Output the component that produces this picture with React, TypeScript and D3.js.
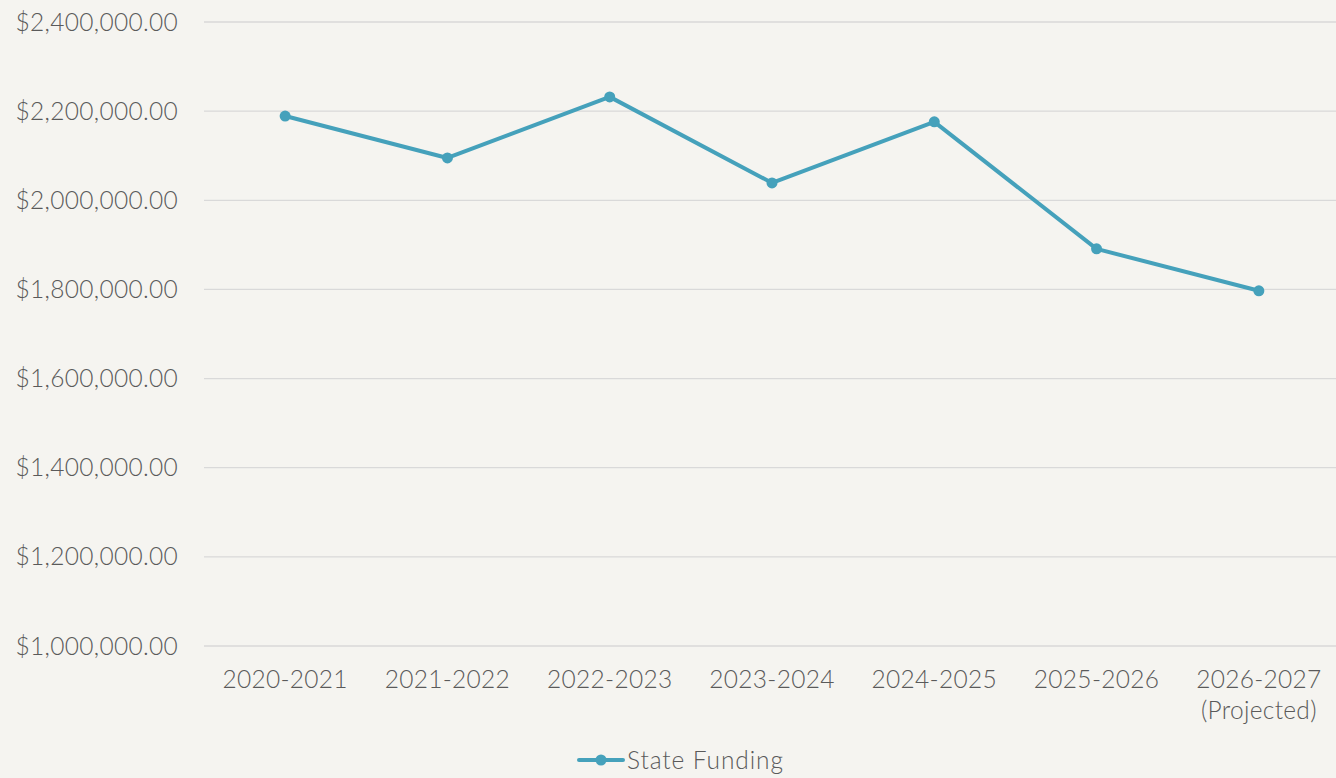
import React from "react";
import * as d3 from "d3";

const categories: string[][] = [
  ["2020-2021"],
  ["2021-2022"],
  ["2022-2023"],
  ["2023-2024"],
  ["2024-2025"],
  ["2025-2026"],
  ["2026-2027", "(Projected)"],
];
const stateFunding: number[] = [2189000, 2095000, 2232000, 2039000, 2176000, 1891000, 1797000];
const yTicks: number[] = [1000000, 1200000, 1400000, 1600000, 1800000, 2000000, 2200000, 2400000];
const seriesName = "State Funding";

const W = 1336;
const H = 778;
const BG = "#f5f4f0";
const LINE = "#45a1bb";
const TEXT = "#5a5a5a";
const GRID = "#d9d9d9";
const FONT = "Lato, 'Open Sans', sans-serif";
const FS = 24.5;

export default function App() {
  const left = 204;
  const right = 1340;
  const gridRight = 1336;
  const top = 22;
  const bottom = 646;
  const keys = categories.map((c) => c.join(" "));
  const x = d3.scaleBand<string>().domain(keys).range([left, right]);
  const y = d3.scaleLinear().domain([1000000, 2400000]).range([bottom, top]);
  const fmt = (v: number) => "$" + d3.format(",.2f")(v);
  const cx = (i: number) => (x(keys[i]) as number) + x.bandwidth() / 2;
  const line = d3
    .line<number>()
    .x((_, i) => cx(i))
    .y((d) => y(d));

  return (
    <svg
      width={W}
      height={H}
      style={{ position: "absolute", left: 0, top: 0, background: BG, display: "block" }}
    >
      <rect x={0} y={0} width={W} height={H} fill={BG} />
      {yTicks.map((t) => (
        <g key={t}>
          <line x1={left} x2={gridRight} y1={y(t)} y2={y(t)} stroke={GRID} strokeWidth={1.3} />
          <text
            x={178}
            y={y(t)}
            dy="0.35em"
            textAnchor="end"
            fontFamily={FONT}
            fontSize={FS}
            fontWeight={300}
            letterSpacing={0.3}
            fill={TEXT}
          >
            {fmt(t)}
          </text>
        </g>
      ))}
      {categories.map((c, i) => (
        <text
          key={keys[i]}
          x={cx(i)}
          y={688}
          textAnchor="middle"
          fontFamily={FONT}
          fontSize={FS}
          fontWeight={300}
          letterSpacing={0.3}
          fill={TEXT}
        >
          {c.map((l, j) => (
            <tspan key={j} x={cx(i)} dy={j === 0 ? 0 : 31}>
              {l}
            </tspan>
          ))}
        </text>
      ))}
      <path d={line(stateFunding) || ""} fill="none" stroke={LINE} strokeWidth={4} strokeLinejoin="round" />
      {stateFunding.map((v, i) => (
        <circle key={i} cx={cx(i)} cy={y(v)} r={5.5} fill={LINE} />
      ))}
      <g>
        <line x1={579} x2={623} y1={760} y2={760} stroke={LINE} strokeWidth={4} strokeLinecap="round" />
        <circle cx={601} cy={760} r={5.5} fill={LINE} />
        <text x={627} y={760} dy="0.35em" fontFamily={FONT} fontSize={FS} fontWeight={300} letterSpacing={0.9} fill={TEXT}>
          {seriesName}
        </text>
      </g>
    </svg>
  );
}
